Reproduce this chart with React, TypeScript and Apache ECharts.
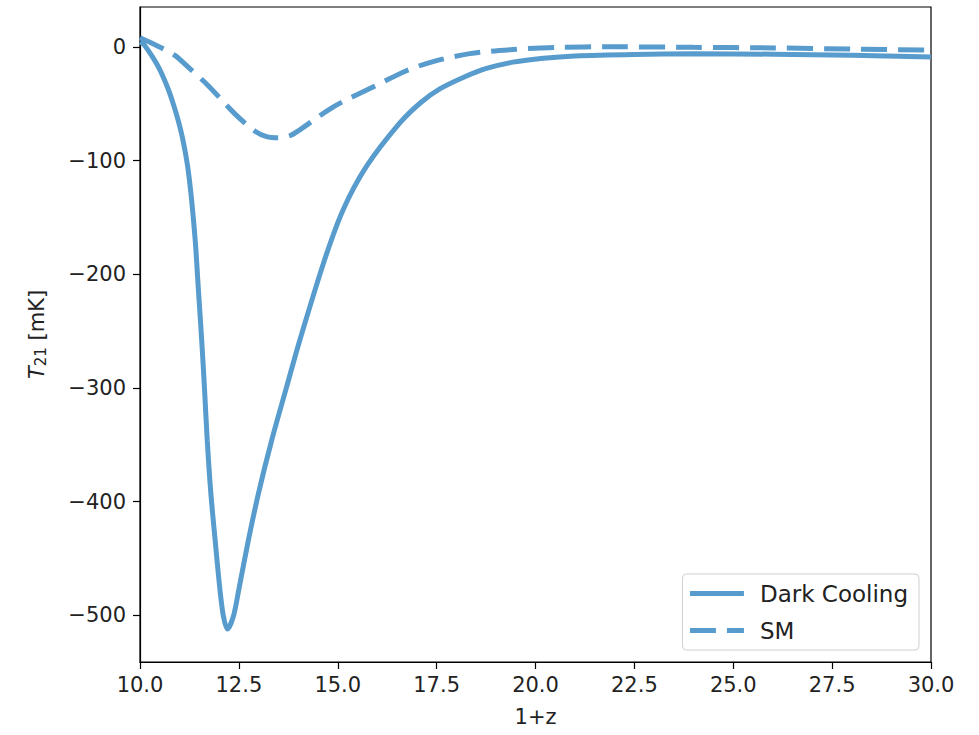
import React, { useEffect, useRef } from "react";
import * as echarts from "echarts";

const darkX = [10.0, 10.1, 10.3, 10.5, 10.7, 10.84, 10.96, 11.08, 11.2, 11.3, 11.4, 11.47, 11.56, 11.63, 11.7, 11.79, 11.9, 12.02, 12.11, 12.21, 12.36, 12.5, 12.74, 13.0, 13.33, 13.7, 14.04, 14.67, 15.14, 15.73, 16.57, 17.1, 17.58, 18.2, 18.76, 19.43, 20.2, 21, 22.5, 24, 26, 28, 30];
const darkY = [4, 2, -8, -20, -36, -50, -64, -81, -104, -133, -172, -210, -258, -300, -346, -392, -434, -477, -501, -512, -501, -477, -434, -392, -346, -300, -258, -187, -143, -105, -67, -49, -37, -26.5, -19, -13.5, -10, -8, -6.7, -6.2, -6.5, -7.5, -9];

const smX = [10.0, 10.25, 10.6, 10.9, 11.13, 11.72, 12.4, 12.9, 13.2, 13.5, 13.8, 14.04, 14.88, 15.85, 16.74, 17.41, 18.34, 19.43, 20.5, 22, 24, 26, 28, 30];
const smY = [8, 4, -2, -8, -15, -34, -59, -74, -79, -80, -78, -73, -53, -36, -21, -13, -6, -2.3, -0.5, 0, -0.5, -1, -2, -3];

const yTicks = [-500, -400, -300, -200, -100, 0];

const COLOR = "rgb(88,155,205)";
const TEXT = "#222";
const FONT = "DejaVu Sans";

export default function App() {
  const ref = useRef<HTMLDivElement>(null);
  useEffect(() => {
    if (!ref.current) return;
    const chart = echarts.init(ref.current, null, { renderer: "svg" });
    const pair = (xs: number[], ys: number[]) => xs.map((x, i) => [x, ys[i]]);
    chart.setOption({
      animation: false,
      backgroundColor: "#fff",
      textStyle: { fontFamily: FONT },
      grid: {
        left: 140,
        top: 7,
        width: 791,
        height: 655,
        show: true,
        borderColor: "#000",
        borderWidth: 1.2,
        backgroundColor: "transparent",
      },
      xAxis: {
        type: "value",
        min: 10,
        max: 30,
        interval: 2.5,
        name: "1+z",
        nameLocation: "middle",
        nameGap: 44,
        nameTextStyle: { fontSize: 21, color: TEXT, fontFamily: FONT },
        axisLine: { show: true, onZero: false, lineStyle: { color: "#000", width: 1.2 } },
        axisTick: { show: true, inside: false, length: 7, lineStyle: { color: "#000", width: 1.2 } },
        axisLabel: {
          fontSize: 21,
          color: TEXT,
          fontFamily: FONT,
          margin: 12,
          formatter: (v: number) => v.toFixed(1),
        },
        splitLine: { show: false },
      },
      yAxis: {
        type: "value",
        min: -541,
        max: 35,
        name: "{i|T}{sub|21} [mK]",
        nameLocation: "middle",
        nameRotate: 90,
        nameGap: 92,
        nameTextStyle: {
          fontSize: 21,
          color: TEXT,
          fontFamily: FONT,
          rich: {
            i: { fontSize: 21, fontStyle: "italic", color: TEXT, fontFamily: FONT },
            sub: { fontSize: 15, color: TEXT, fontFamily: FONT, verticalAlign: "bottom", padding: [8, 0, 0, 0] },
          },
        },
        axisLine: { show: true, onZero: false, lineStyle: { color: "#000", width: 1.2 } },
        axisTick: { show: true, inside: false, length: 7, customValues: yTicks, lineStyle: { color: "#000", width: 1.2 } },
        axisLabel: {
          fontSize: 21,
          color: TEXT,
          fontFamily: FONT,
          margin: 14,
          customValues: yTicks,
          formatter: (v: number) => String(v).replace("-", "\u2212"),
        },
        splitLine: { show: false },
      },
      legend: {
        orient: "vertical",
        right: 60,
        bottom: 85,
        padding: [8, 11, 8, 5],
        itemGap: 14,
        itemWidth: 54,
        itemHeight: 14,
        backgroundColor: "rgba(255,255,255,0.8)",
        borderColor: "#d0d0d0",
        borderWidth: 1,
        borderRadius: 4,
        itemStyle: { opacity: 0 },
        lineStyle: { width: 5 },
        textStyle: { fontSize: 23, color: TEXT, fontFamily: FONT, padding: [0, 0, 0, 11] },
        data: ["Dark Cooling", "SM"],
      },
      series: [
        {
          name: "Dark Cooling",
          type: "line",
          data: pair(darkX, darkY),
          smooth: 0.3,
          showSymbol: false,
          symbol: "none",
          lineStyle: { color: COLOR, width: 5 },
          itemStyle: { color: COLOR },
          clip: true,
        },
        {
          name: "SM",
          type: "line",
          data: pair(smX, smY),
          smooth: 0.3,
          showSymbol: false,
          symbol: "none",
          lineStyle: { color: COLOR, width: 5, type: [26, 11] },
          itemStyle: { color: COLOR },
          clip: true,
        },
      ],
    });
    return () => chart.dispose();
  }, []);
  return (
    <div
      ref={ref}
      style={{ position: "fixed", left: 0, top: 0, width: 979, height: 735, background: "#fff" }}
    />
  );
}
